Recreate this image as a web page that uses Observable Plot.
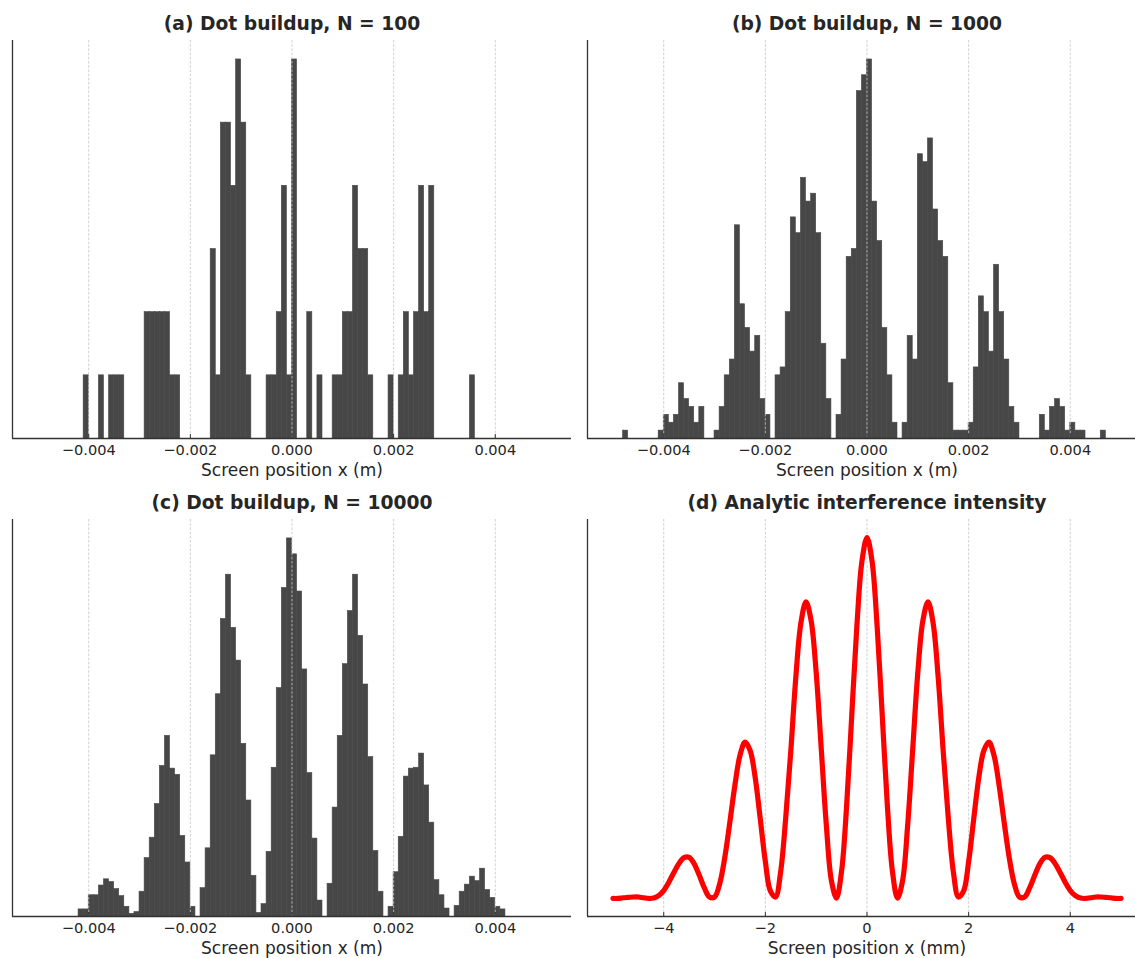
<!DOCTYPE html>
<html><head><meta charset="utf-8">
<script src="https://cdn.jsdelivr.net/npm/d3@7"></script>
<script src="https://cdn.jsdelivr.net/npm/@observablehq/plot@0.6"></script>
<style>
html,body{margin:0;padding:0;background:#fff;}
#fig{position:relative;width:1135px;height:958px;overflow:hidden;background:#fff;font-family:"DejaVu Sans",sans-serif;}
#fig svg{position:absolute;overflow:visible;}
</style></head><body><div id="fig"></div>
<script>
// Histogram bins: 100 bins of width 1e-4 m starting at -0.005 m
const binStart = -0.005;
const binWidth = 0.0001;

const counts100 = [
  0,0,0,0,0,0,0,0,0,1,
  0,0,1,0,1,1,1,0,0,0,
  0,2,2,2,2,2,1,1,0,0,
  0,0,0,0,3,1,5,5,4,6,
  5,1,0,0,0,1,1,2,4,1,
  6,0,0,2,0,1,0,0,1,1,
  2,2,4,3,3,1,0,0,0,1,
  0,1,2,1,2,4,2,4,0,0,
  0,0,0,0,0,1,0,0,0,0,
  0,0,0,0,0,0,0,0,0,0
];
const counts1000 = [
  0,0,1,0,0,0,0,0,0,1,
  3,2,3,7,5,4,2,4,0,0,
  1,4,8,10,27,17,14,11,13,5,
  3,0,8,9,16,28,26,33,30,31,
  26,12,5,0,3,10,23,24,44,46,
  48,30,25,14,8,2,0,2,13,10,
  36,35,38,29,25,23,7,1,1,1,
  2,9,18,16,11,22,16,10,4,2,
  0,0,0,0,3,1,4,5,4,1,
  2,1,1,0,0,0,1,0,0,0
];
const counts10000 = [
  0,0,0,0,0,0,0,0,8,8,
  24,24,35,42,39,31,23,11,3,5,
  28,66,89,127,170,204,167,160,91,61,
  11,0,32,77,182,251,336,386,326,289,
  195,131,46,4,14,73,168,258,371,427,
  409,367,279,162,88,18,0,37,123,204,
  285,345,386,317,262,180,74,28,0,11,
  50,90,158,167,168,184,148,106,41,24,
  9,0,12,28,36,45,40,54,30,21,
  11,8,0,0,0,0,0,0,0,0
];

const histTicks = [-0.004, -0.002, 0, 0.002, 0.004];
const histTickLabels = ["−0.004", "−0.002", "0.000", "0.002", "0.004"];

// Analytic intensity, x in mm
const curveX = [
  -5.0,-4.9,-4.8,-4.7,-4.6,-4.5,-4.4,-4.3,-4.2,-4.1,
  -4.0,-3.9,-3.8,-3.7,-3.6,-3.5,-3.4,-3.3,-3.2,-3.1,
  -3.0,-2.9,-2.8,-2.7,-2.6,-2.5,-2.4,-2.3,-2.2,-2.1,
  -2.0,-1.9,-1.8,-1.7,-1.6,-1.5,-1.4,-1.3,-1.2,-1.1,
  -1.0,-0.9,-0.8,-0.7,-0.6,-0.5,-0.4,-0.3,-0.2,-0.1,
  0.0,
  0.1,0.2,0.3,0.4,0.5,0.6,0.7,0.8,0.9,1.0,
  1.1,1.2,1.3,1.4,1.5,1.6,1.7,1.8,1.9,2.0,
  2.1,2.2,2.3,2.4,2.5,2.6,2.7,2.8,2.9,3.0,
  3.1,3.2,3.3,3.4,3.5,3.6,3.7,3.8,3.9,4.0,
  4.1,4.2,4.3,4.4,4.5,4.6,4.7,4.8,4.9,5.0
];
const curveI = [
  0.000,0.000,0.002,0.003,0.004,0.004,0.002,0.000,0.001,0.008,
  0.022,0.045,0.072,0.097,0.113,0.114,0.096,0.064,0.029,0.004,
  0.004,0.040,0.112,0.210,0.313,0.396,0.433,0.410,0.335,0.220,
  0.102,0.020,0.004,0.073,0.222,0.407,0.614,0.764,0.822,0.770,
  0.626,0.414,0.203,0.049,0.001,0.076,0.259,0.507,0.753,0.934,
  1.000,
  0.934,0.753,0.507,0.259,0.076,0.001,0.049,0.203,0.414,0.626,
  0.770,0.822,0.764,0.614,0.407,0.222,0.073,0.004,0.020,0.102,
  0.220,0.335,0.410,0.433,0.396,0.313,0.210,0.112,0.040,0.004,
  0.004,0.029,0.064,0.096,0.114,0.113,0.097,0.072,0.045,0.022,
  0.008,0.001,0.000,0.002,0.004,0.004,0.003,0.002,0.000,0.000
];
const curveTicks = [-4, -2, 0, 2, 4];
const curveTickLabels = ["−4", "−2", "0", "2", "4"];

const titles = [
  "(a) Dot buildup, N = 100",
  "(b) Dot buildup, N = 1000",
  "(c) Dot buildup, N = 10000",
  "(d) Analytic interference intensity"
];
const xLabels = ["Screen position x (m)", "Screen position x (mm)"];

const fig = document.getElementById("fig");
const FONT = "DejaVu Sans";
const INK = "#262626";
const SPINE = "#333333";
const BAR = "#474747";

function panel({left, top, plotW, plotH, xDomain, yDomain, ticks, tickLabels, title, xLabel, dataMarks, gridOnTop}) {
  const mL = 20, mR = 20, mT = 50, mB = 50;
  const labelMap = new Map(ticks.map((t, i) => [t, tickLabels[i]]));
  const grid = Plot.gridX(ticks, {stroke: "#c4c4c4", strokeOpacity: 1, strokeWidth: 0.8, strokeDasharray: "2.6,1.6"});
  const tickLen = (yDomain[1] - yDomain[0]) * 4 / plotH;
  const marks = [
    ...(gridOnTop ? [] : [grid]),
    ...dataMarks,
    ...(gridOnTop ? [grid] : []),
    Plot.ruleX(ticks, {y1: yDomain[0], y2: yDomain[0] + tickLen, stroke: SPINE, strokeWidth: 1}),
    Plot.ruleY([yDomain[0]], {stroke: SPINE, strokeWidth: 1.3}),
    Plot.ruleX([xDomain[0]], {stroke: SPINE, strokeWidth: 1.3}),
    Plot.axisX(ticks, {tickSize: 0, tickPadding: 6, fontSize: 14.6, fill: INK, label: null, tickFormat: d => labelMap.get(d)}),
    Plot.text([xLabel], {text: d => d, frameAnchor: "bottom", lineAnchor: "bottom", dy: 37, fontSize: 17, fill: INK}),
    Plot.text([title], {text: d => d, frameAnchor: "top", lineAnchor: "bottom", dy: -11, fontSize: 18.7, fontWeight: "bold", fill: INK})
  ];
  const svg = Plot.plot({
    width: mL + plotW + mR,
    height: mT + plotH + mB,
    marginLeft: mL, marginRight: mR, marginTop: mT, marginBottom: mB,
    style: {background: "transparent", fontFamily: FONT, overflow: "visible"},
    x: {domain: xDomain},
    y: {domain: yDomain, axis: null},
    marks
  });
  svg.style.left = (left - mL) + "px";
  svg.style.top = (top - mT) + "px";
  fig.append(svg);
}

function histPanel(counts, opts) {
  const bins = counts
    .map((c, i) => ({x1: binStart + i * binWidth, x2: binStart + (i + 1) * binWidth, count: c}))
    .filter(d => d.count > 0);
  const yMax = d3.max(counts) * 1.05;
  panel({
    ...opts,
    xDomain: [-0.0055, 0.0055],
    yDomain: [0, yMax],
    ticks: histTicks,
    tickLabels: histTickLabels,
    xLabel: xLabels[0],
    gridOnTop: true,
    dataMarks: [Plot.rectY(bins, {x1: "x1", x2: "x2", y: "count", fill: BAR, stroke: BAR, strokeWidth: 0.6, inset: 0})]
  });
}

histPanel(counts100,   {left: 11.5,  top: 40,  plotW: 559, plotH: 398, title: titles[0]});
histPanel(counts1000,  {left: 586.5, top: 40,  plotW: 559, plotH: 398, title: titles[1]});
histPanel(counts10000, {left: 11.5,  top: 519, plotW: 559, plotH: 397, title: titles[2]});

const curve = curveX.map((x, i) => ({x, I: curveI[i]}));
panel({
  left: 586.5, top: 519, plotW: 559, plotH: 397,
  xDomain: [-5.5, 5.5], yDomain: [-0.05, 1.05],
  ticks: curveTicks, tickLabels: curveTickLabels,
  title: titles[3], xLabel: xLabels[1], gridOnTop: false,
  dataMarks: [Plot.line(curve, {x: "x", y: "I", stroke: "#ff0000", strokeWidth: 5.2, curve: "catmull-rom", strokeLinecap: "round", strokeLinejoin: "round"})]
});
</script></body></html>
